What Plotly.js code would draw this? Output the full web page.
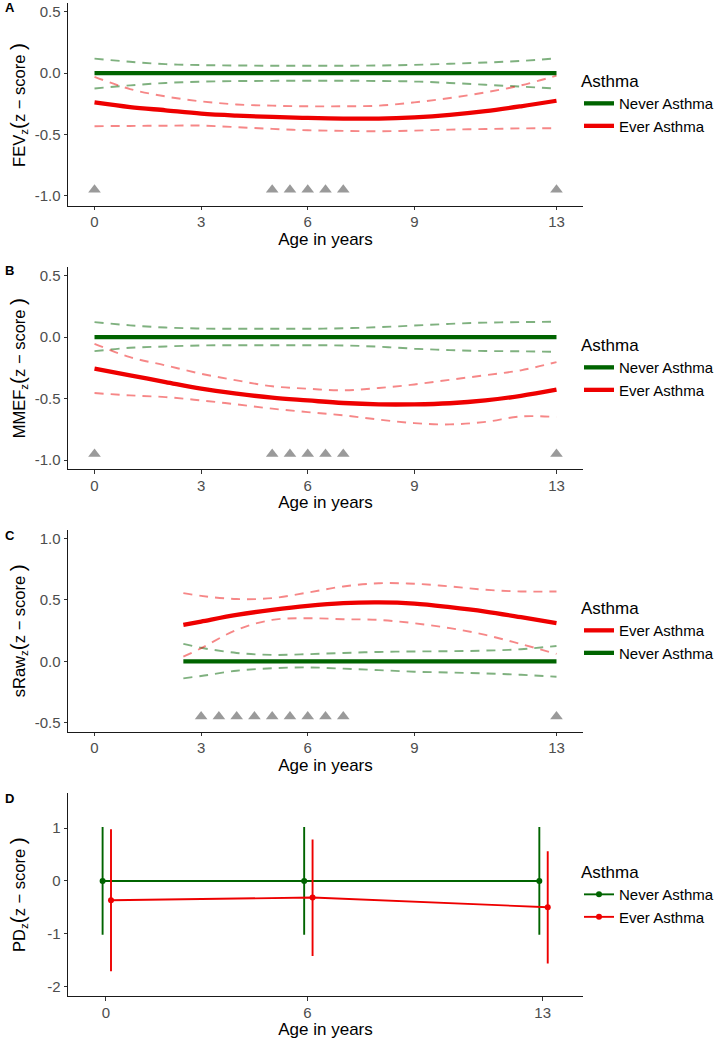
<!DOCTYPE html>
<html><head><meta charset="utf-8">
<script src="https://cdn.plot.ly/plotly-3.0.1.min.js"></script>
<style>body{margin:0;padding:0;background:#fff}#chart{width:719px;height:1039px}</style>
</head><body><div id="chart"></div>
<script>
// ---------- DATA ----------
const agesAB = [0,1,2,3,4,5,6,7,8,9,10,11,12,13];
// Panel A: FEV
const fevNeverMean  = [0,0,0,0,0,0,0,0,0,0,0,0,0,0];
const fevNeverUpper = [0.118,0.092,0.073,0.065,0.062,0.06,0.06,0.06,0.062,0.067,0.076,0.086,0.099,0.12];
const fevNeverLower = [-0.125,-0.1,-0.08,-0.07,-0.065,-0.063,-0.062,-0.062,-0.064,-0.068,-0.08,-0.095,-0.11,-0.126];
const fevEverMean   = [-0.238,-0.276,-0.303,-0.33,-0.346,-0.357,-0.365,-0.37,-0.37,-0.36,-0.34,-0.31,-0.27,-0.225];
const fevEverUpper  = [-0.03,-0.13,-0.19,-0.23,-0.255,-0.265,-0.27,-0.27,-0.265,-0.238,-0.203,-0.157,-0.1,-0.02];
const fevEverLower  = [-0.432,-0.43,-0.428,-0.427,-0.44,-0.454,-0.465,-0.47,-0.473,-0.468,-0.46,-0.455,-0.45,-0.448];
// Panel B: MMEF
const mmefNeverMean  = [0,0,0,0,0,0,0,0,0,0,0,0,0,0];
const mmefNeverUpper = [0.122,0.096,0.078,0.07,0.068,0.068,0.068,0.072,0.081,0.094,0.108,0.118,0.122,0.125];
const mmefNeverLower = [-0.114,-0.087,-0.076,-0.068,-0.066,-0.066,-0.066,-0.068,-0.078,-0.094,-0.106,-0.113,-0.115,-0.12];
const mmefEverMean   = [-0.257,-0.311,-0.366,-0.42,-0.46,-0.493,-0.515,-0.536,-0.547,-0.547,-0.538,-0.515,-0.478,-0.428];
const mmefEverUpper  = [-0.054,-0.163,-0.23,-0.298,-0.352,-0.4,-0.42,-0.433,-0.414,-0.385,-0.347,-0.31,-0.27,-0.203];
const mmefEverLower  = [-0.455,-0.474,-0.488,-0.515,-0.547,-0.582,-0.61,-0.636,-0.671,-0.7,-0.71,-0.69,-0.645,-0.65];
// Panel C: sRaw
const agesC = [2.5,3,4,5,6,7,8,9,10,11,12,13];
const srawEverMean   = [0.297,0.324,0.378,0.419,0.452,0.474,0.48,0.47,0.441,0.405,0.359,0.31];
const srawEverUpper  = [0.555,0.533,0.507,0.515,0.56,0.61,0.636,0.632,0.61,0.583,0.569,0.569];
const srawEverLower  = [0.038,0.106,0.256,0.337,0.351,0.343,0.337,0.31,0.27,0.215,0.14,0.06];
const srawNeverMean  = [0,0,0,0,0,0,0,0,0,0,0,0];
const srawNeverUpper = [0.142,0.11,0.068,0.052,0.058,0.068,0.076,0.08,0.082,0.087,0.098,0.125];
const srawNeverLower = [-0.139,-0.12,-0.077,-0.057,-0.05,-0.06,-0.072,-0.085,-0.092,-0.099,-0.11,-0.126];
// Measurement occasions (triangles)
const measAB = [0,5,5.5,6,6.5,7,13];
const markAB = [-0.95,-0.95,-0.95,-0.95,-0.95,-0.95,-0.95];
const measC  = [3,3.5,4,4.5,5,5.5,6,6.5,7,13];
const markC  = [-0.45,-0.45,-0.45,-0.45,-0.45,-0.45,-0.45,-0.45,-0.45,-0.45];
// Panel D: PD
const agesD = [0,6,13];
const pdNeverMean  = [0,0,0];
const pdNeverUpper = [1.02,1.02,1.02];
const pdNeverLower = [-1.02,-1.02,-1.02];
const pdEverMean   = [-0.366,-0.315,-0.498];
const pdEverUpper  = [0.98,0.784,0.562];
const pdEverLower  = [-1.71,-1.42,-1.565];
// Tick labels
const ticksAB = [-1,-0.5,0,0.5];  const ticksABtext = ['-1.0','-0.5','0.0','0.5'];
const ticksC  = [-0.5,0,0.5,1];   const ticksCtext  = ['-0.5','0.0','0.5','1.0'];
const ticksD  = [-2,-1,0,1];      const ticksDtext  = ['-2','-1','0','1'];
const xticksABC = [0,3,6,9,13];
const xticksD = [0,6,13];

// ---------- STYLE ----------
const F = 'Liberation Sans, Arial, Helvetica, sans-serif';
const GREEN = '#006400', RED = '#ee0000';
const GREEN_CI = 'rgba(0,100,0,0.5)', RED_CI = 'rgba(235,0,0,0.47)';
const GREY = '#9a9a9a';
const H = 1039;
const py = p => 1 - p / H;
const px = p => (p - 68) / 524;

const traces = [];
function ci(n, x, lo, hi, color) {
  [lo, hi].forEach(y => traces.push({
    type: 'scatter', mode: 'lines', x: x, y: y, xaxis: 'x' + n, yaxis: 'y' + n,
    line: {color: color, width: 1.9, dash: '9px,7px', shape: 'spline'},
    showlegend: false, hoverinfo: 'skip'
  }));
}
function mean(n, x, y, color, name, leg, rank) {
  traces.push({
    type: 'scatter', mode: 'lines', x: x, y: y, xaxis: 'x' + n, yaxis: 'y' + n,
    line: {color: color, width: 4.3, shape: 'spline'}, name: name,
    legend: leg, legendrank: rank, showlegend: true
  });
}
function tri(n, x, y) {
  traces.push({
    type: 'scatter', mode: 'markers', x: x, y: y, xaxis: 'x' + n, yaxis: 'y' + n,
    marker: {symbol: 'triangle-up', size: 11, color: GREY}, showlegend: false, hoverinfo: 'skip'
  });
}

// Panel A
ci('', agesAB, fevNeverLower, fevNeverUpper, GREEN_CI);
ci('', agesAB, fevEverLower, fevEverUpper, RED_CI);
mean('', agesAB, fevNeverMean, GREEN, 'Never Asthma', 'legend', 1);
mean('', agesAB, fevEverMean, RED, 'Ever Asthma', 'legend', 2);
tri('', measAB, markAB);
// Panel B
ci('2', agesAB, mmefNeverLower, mmefNeverUpper, GREEN_CI);
ci('2', agesAB, mmefEverLower, mmefEverUpper, RED_CI);
mean('2', agesAB, mmefNeverMean, GREEN, 'Never Asthma', 'legend2', 1);
mean('2', agesAB, mmefEverMean, RED, 'Ever Asthma', 'legend2', 2);
tri('2', measAB, markAB);
// Panel C
ci('3', agesC, srawNeverLower, srawNeverUpper, GREEN_CI);
ci('3', agesC, srawEverLower, srawEverUpper, RED_CI);
mean('3', agesC, srawNeverMean, GREEN, 'Never Asthma', 'legend3', 2);
mean('3', agesC, srawEverMean, RED, 'Ever Asthma', 'legend3', 1);
tri('3', measC, markC);
// Panel D (dodged point ranges)
function pd(x, dodge, m, lo, hi, color, name, rank) {
  traces.push({
    type: 'scatter', mode: 'lines+markers', x: x.map(v => v + dodge), y: m,
    xaxis: 'x4', yaxis: 'y4', name: name, legend: 'legend4', legendrank: rank,
    line: {color: color, width: 1.9}, marker: {color: color, size: 6},
    error_y: {type: 'data', symmetric: false, array: hi.map((v, i) => v - m[i]),
              arrayminus: m.map((v, i) => v - lo[i]), color: color, thickness: 1.9, width: 0}
  });
}
pd(agesD, -0.1, pdNeverMean, pdNeverLower, pdNeverUpper, GREEN, 'Never Asthma', 1);
pd(agesD, 0.15, pdEverMean, pdEverLower, pdEverUpper, RED, 'Ever Asthma', 2);

// ---------- LAYOUT ----------
const tickfont = {family: F, size: 15, color: '#4d4d4d'};
function xax(anchor, range, vals) {
  return {anchor: anchor, domain: [0, 1], range: range, tickvals: vals, ticktext: vals.map(String),
    showline: true, linecolor: '#1a1a1a', linewidth: 1, ticks: 'outside', ticklen: 3.5, tickcolor: '#333',
    showgrid: false, zeroline: false, tickfont: tickfont, automargin: false, ticklabelstandoff: -1,
    title: {text: 'Age in years', font: {family: F, size: 17, color: '#000'}, standoff: 2}};
}
function yax(anchor, top, bot, range, vals, text) {
  return {anchor: anchor, domain: [py(bot), py(top)], range: range, tickvals: vals, ticktext: text,
    showline: true, linecolor: '#1a1a1a', linewidth: 1, ticks: 'outside', ticklen: 3.5, tickcolor: '#333',
    showgrid: false, zeroline: false, tickfont: tickfont, automargin: false};
}
function leg(topPx) {
  return {x: px(588), xanchor: 'left', y: py(topPx), yanchor: 'top', bgcolor: 'rgba(0,0,0,0)',
    font: {family: F, size: 15, color: '#000'}, itemwidth: 30, tracegroupgap: 0, traceorder: 'normal',
    title: {text: 'Asthma', font: {family: F, size: 17, color: '#000'}}};
}
const P = s => '<span style="font-size:21px">' + s + '</span>';
const ann = [];
const panelsY = [[3.3, 205.7, 'A', 'FEV<sub>z</sub>' + P('(') + 'z − score ' + P(')')],
                 [266.7, 469, 'B', 'MMEF<sub>z</sub>' + P('(') + 'z − score ' + P(')')],
                 [530, 731.7, 'C', 'sRaw<sub>z</sub>' + P('(') + 'z − score ' + P(')')],
                 [793.3, 996, 'D', 'PD<sub>z</sub>' + P('(') + 'z − score ' + P(')')]];
const letterY = [8, 270.7, 535, 798];
panelsY.forEach((p, i) => {
  ann.push({xref: 'paper', yref: 'paper', x: px(1.5), y: py(letterY[i]), xanchor: 'left', yanchor: 'middle',
    text: '<b>' + p[2] + '</b>', showarrow: false, font: {family: F, size: 13, color: '#000'}});
  ann.push({xref: 'paper', yref: 'paper', x: px(16.5), y: py((p[0] + p[1]) / 2), xanchor: 'center', yanchor: 'middle',
    textangle: -90, text: p[3], showarrow: false, font: {family: F, size: 16.5, color: '#000'}});
});

const layout = {
  width: 719, height: 1039, margin: {l: 68, r: 127, t: 0, b: 0},
  paper_bgcolor: '#fff', plot_bgcolor: '#fff', font: {family: F},
  showlegend: true,
  xaxis: xax('y', [-0.746, 13.746], xticksABC),
  yaxis: yax('x', 3.3, 205.7, [-1.079, 0.568], ticksAB, ticksABtext),
  xaxis2: xax('y2', [-0.746, 13.746], xticksABC),
  yaxis2: yax('x2', 266.7, 469, [-1.073, 0.573], ticksAB, ticksABtext),
  xaxis3: xax('y3', [-0.746, 13.746], xticksABC),
  yaxis3: yax('x3', 530, 731.7, [-0.574, 1.07], ticksC, ticksCtext),
  xaxis4: xax('y4', [-1.13, 14.2], xticksD),
  yaxis4: yax('x4', 793.3, 996, [-2.18, 1.66], ticksD, ticksDtext),
  legend: leg(65), legend2: leg(329), legend3: leg(592), legend4: leg(856),
  annotations: ann
};
Plotly.newPlot('chart', traces, layout, {displayModeBar: false, staticPlot: true});
</script>
</body></html>
